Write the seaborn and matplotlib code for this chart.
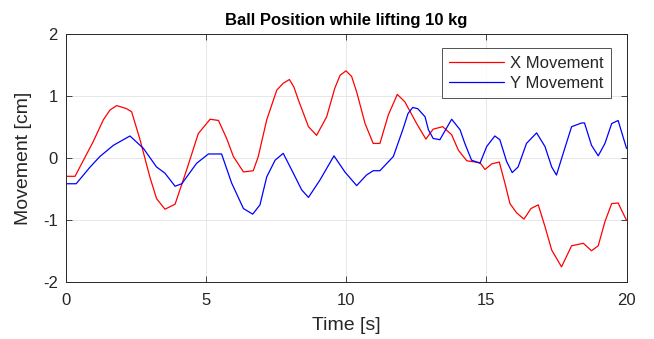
import matplotlib as mpl
mpl.use("Agg")
import matplotlib.pyplot as plt
import seaborn as sns
import pandas as pd

# values
x_time = [0, 0.32, 0.97, 1.33, 1.57, 1.81, 2.16, 2.34, 2.64, 2.99, 3.23, 3.53,
          3.89, 4.3, 4.72, 5.14, 5.44, 5.73, 5.97, 6.33, 6.68, 6.86, 7.16, 7.52,
          7.75, 7.97, 8.13, 8.29, 8.65, 8.94, 9.3, 9.59, 9.78, 9.99, 10.19, 10.37,
          10.67, 10.96, 11.2, 11.5, 11.82, 12.09, 12.51, 12.84, 13.1, 13.44, 13.76,
          14.0, 14.3, 14.77, 14.95, 15.19, 15.46, 15.66, 15.84, 16.08, 16.34,
          16.59, 16.85, 17.09, 17.33, 17.5, 17.68, 18.04, 18.46, 18.75, 18.99,
          19.23, 19.47, 19.7, 20.0]
x_move = [-0.29, -0.29, 0.27, 0.62, 0.78, 0.85, 0.8, 0.75, 0.3, -0.3, -0.65, -0.82,
          -0.74, -0.19, 0.4, 0.63, 0.61, 0.32, 0.03, -0.22, -0.2, 0.03, 0.62, 1.1,
          1.21, 1.27, 1.15, 0.94, 0.51, 0.37, 0.67, 1.13, 1.34, 1.41, 1.32, 1.07,
          0.56, 0.24, 0.24, 0.7, 1.03, 0.91, 0.56, 0.31, 0.47, 0.51, 0.38,
          0.13, -0.04, -0.07, -0.18, -0.09, -0.06, -0.4, -0.73, -0.88, -0.98,
          -0.81, -0.75, -1.1, -1.48, -1.61, -1.75, -1.41, -1.37, -1.49, -1.41,
          -1.02, -0.73, -0.72, -1.0]

y_time = [0, 0.36, 0.86, 1.21, 1.69, 2.28, 2.76, 3.23, 3.53, 3.89, 4.13, 4.66,
          5.08, 5.55, 5.91, 6.33, 6.66, 6.92, 7.16, 7.46, 7.75, 8.11, 8.41, 8.65,
          9.06, 9.56, 9.95, 10.37, 10.72, 10.96, 11.2, 11.68, 12.03, 12.2, 12.37,
          12.55, 12.81, 12.93, 13.1, 13.34, 13.76, 14.06, 14.23, 14.47, 14.77, 15.01,
          15.3, 15.48, 15.72, 15.92, 16.13, 16.43, 16.79, 17.09, 17.33, 17.5,
          17.74, 18.04, 18.4, 18.5, 18.75, 18.99, 19.23, 19.47, 19.7, 20.0]
y_move = [-0.41, -0.41, -0.14, 0.03, 0.21, 0.36, 0.16, -0.14, -0.24, -0.45, -0.41, -0.08,
          0.07, 0.07, -0.4, -0.81, -0.9, -0.75, -0.3, -0.03, 0.08, -0.24, -0.51, -0.63,
          -0.35, 0.04, -0.22, -0.44, -0.27, -0.2, -0.2, 0.03, 0.48, 0.72, 0.82,
          0.8, 0.67, 0.46, 0.32, 0.3, 0.63, 0.46, 0.24, -0.03, -0.08, 0.19,
          0.36, 0.3, -0.05, -0.23, -0.14, 0.24, 0.41, 0.19, -0.14, -0.27,
          0.08, 0.51, 0.57, 0.57, 0.21, 0.04, 0.24, 0.56, 0.61, 0.16]

x_ticks = [0, 5, 10, 15, 20]
y_ticks = [-2, -1, 0, 1, 2]

df = pd.concat([
    pd.DataFrame({"t": x_time, "v": x_move, "s": "X Movement"}),
    pd.DataFrame({"t": y_time, "v": y_move, "s": "Y Movement"}),
])

sns.set_style("ticks")
plt.rcParams['font.family'] = ['Liberation Sans', 'DejaVu Sans']
plt.rcParams['axes.unicode_minus'] = False

dark = "#262626"
fig = plt.figure(figsize=(6.54, 3.39), dpi=100)
ax = fig.add_axes([0.101, 0.167, 0.857, 0.732])

sns.lineplot(data=df, x="t", y="v", hue="s", palette=["#ff0000", "#0000ff"],
             sort=False, estimator=None, linewidth=0.9, ax=ax)

ax.set_xlim(0, 20)
ax.set_ylim(-2, 2)
ax.set_xticks(x_ticks)
ax.set_yticks(y_ticks)
ax.grid(True, color="#e3e3e3", linewidth=0.6)
ax.set_axisbelow(True)
ax.tick_params(direction="in", top=True, right=True, length=4, width=0.6,
               colors=dark, labelsize=12)
ax.tick_params(axis="x", pad=8)
ax.tick_params(axis="y", pad=6)
for sp in ax.spines.values():
    sp.set_color(dark)
    sp.set_linewidth(0.7)

ax.set_xlabel("Time [s]", fontsize=14, color=dark, labelpad=6)
ax.set_ylabel("Movement [cm]", fontsize=14, color=dark, labelpad=8)
ax.set_title("Ball Position while lifting 10 kg", fontsize=12, fontweight="bold",
             color="black", pad=7)

leg = ax.legend(loc="upper right", bbox_to_anchor=(0.973, 0.944), fontsize=12,
                frameon=True, fancybox=False, handlelength=3.3,
                borderpad=0.45, labelspacing=0.3, handletextpad=0.35,
                borderaxespad=0)
leg.get_frame().set_edgecolor(dark)
leg.get_frame().set_linewidth(0.7)
leg.set_title(None)

fig.savefig("out.png", dpi=100, facecolor="white")
